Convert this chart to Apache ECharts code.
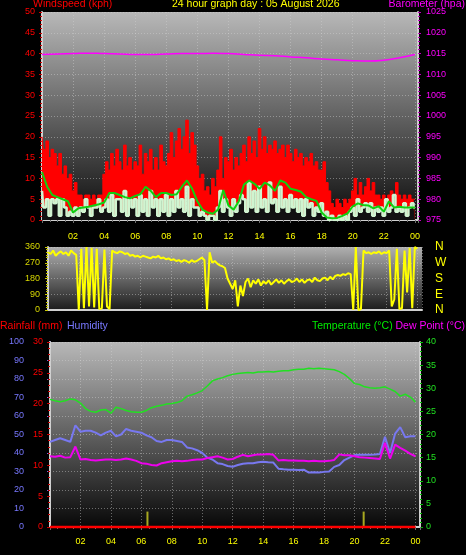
<!DOCTYPE html>
<html><head><meta charset="utf-8">
<script src="https://cdn.jsdelivr.net/npm/echarts@6/dist/echarts.min.js"></script>
<style>html,body{margin:0;padding:0;background:#000;}#c{width:466px;height:555px;}</style>
</head><body><div id="c"></div>
<script>
// ---------- tick labels ----------
const hourTicks = [0,2,4,6,8,10,12,14,16,18,20,22,24];
const hourTickLabels = ['','02','04','06','08','10','12','14','16','18','20','22','00'];
const dirTicks = [0,90,180,270,360];
const dirCompass = ['N','E','S','W','N'];

// ---------- top panel: wind (10-minute steps) ----------
const windGust = [
 20,17,19,15,17,16, 13,16,11,13,10,11, 7,9,6,6,5,6, 6,5,6,5,6,6,
 11,14,12,16,13,17, 14,12,18,13,15,12, 14,13,18,11,16,14, 17,12,15,12,18,14,
 13,16,21,15,19,22, 17,20,24,16,21,18, 13,10,11,7,8,6, 10,8,12,20,10,15,
 14,17,12,15,13,16, 18,14,20,16,19,15, 22,17,20,16,18,17, 19,16,17,18,15,18,
 16,14,17,15,16,13, 15,14,16,13,14,12, 12,14,9,7,4,3, 5,4,3,5,4,5,
 7,10,6,9,6,8, 10,7,9,6,6,5, 6,5,6,7,5,9, 6,5,6,5,6,5, 5];
const windSpeed = [
 7,3,5,1,5,4, 5,1,5,3,1,2, 1,3,1,3,2,5, 3,1,3,3,5,2,
 3,5,2,6,1,5, 5,2,7,1,5,3, 5,1,6,2,5,1, 7,3,5,1,5,2,
 6,1,5,2,7,3, 5,2,8,1,5,3, 3,1,2,1,0,1, 1,0,3,7,2,5,
 3,1,5,2,4,6, 5,2,9,3,7,2, 8,3,5,2,9,4, 5,2,8,3,5,2,
 6,3,5,2,5,1, 5,3,4,1,3,2, 4,1,2,0,1,0, 0,1,0,1,0,2,
 3,1,5,2,3,4, 2,4,1,3,2,3, 1,5,2,3,6,2, 3,2,4,1,3,4, 3];
// 20-minute average wind
const windAvg = [
 11.5,8,6, 5.5,5,4.5, 1.8,2.8,3, 3.2,3.5,3.8, 4.2,6.5,6.5, 6,5.5,5.2,
 5.8,6.2,8, 7,5.5,6.5, 6.5,6,6.2, 8,9.5,7.5, 4.5,2.5,1.8, 1.5,2.5,7.2,
 3.5,2.5,4.5, 8.5,9.5,8.7, 7.5,9,8.3, 7,9.5,9, 7.5,7.2,6.8, 5.5,5,4.6,
 1.8,0.6,0.4, 0.5,1,1.6, 3.3,4,3.6, 3.5,2.8,3.3, 2,4.5,3, 3.2,3,3, 3];
// hourly barometer
const barometer = [1014.8,1014.9,1015.0,1015.1,1015.0,1014.9,1014.8,1014.8,1014.9,1015.0,1015.0,1015.1,
 1015.0,1014.8,1014.6,1014.5,1014.2,1014.0,1013.7,1013.5,1013.3,1013.2,1013.4,1014.0,1014.8];

// ---------- middle panel: wind direction (10-minute steps) ----------
const windDir = [
 330,320,340,310,325,335, 320,330,310,340,325,315, 0,350,10,360,20,355, 15,350,5,10,345,20,
 5,340,330,325,335,330, 320,325,310,315,305,310, 300,310,305,300,295,305, 300,310,295,300,290,295,
 285,290,280,285,275,285, 280,270,285,275,280,290, 300,285,0,330,270,280, 265,255,250,240,180,150,
 120,170,20,140,80,160, 180,130,170,150,175,140, 165,150,170,145,160,175, 155,170,150,165,175,160,
 165,180,160,175,155,170, 175,160,185,170,165,180, 185,170,190,175,195,200, 195,205,200,210,205,0,
 360,0,5,340,325,330, 320,330,325,335,320,330, 325,340,20,60,350,5, 10,340,100,355,10,360, 350];

// ---------- bottom panel (20-minute steps) ----------
const temperature = [
 27.6,27.3,27.1, 27.3,27.7,27.5, 26.8,25.6,25.0, 24.8,25.3,25.4, 24.6,25.9,25.6, 25.2,24.9,24.8,
 24.8,25.2,25.8, 26.1,26.3,26.6, 26.7,26.9,27.3, 28.3,28.6,29.0, 29.5,30.5,31.6, 32.0,32.3,32.7,
 33.0,33.2,33.3, 33.4,33.3,33.5, 33.5,33.6,33.5, 33.7,33.8,33.8, 34.0,34.1,34.1, 34.3,34.2,34.3,
 34.2,34.1,34.0, 33.6,33.0,32.1, 31.0,30.8,30.3, 30.1,30.0,30.1, 30.3,29.8,29.3, 28.3,28.7,28.1, 27.0];
const humidity = [
 46,47,48, 47,46,55, 51.5,52,52, 51,49.5,51, 52,49,50, 53,52,51.5,
 51,49.5,48.5, 46.5,46,47, 47,46.5,46, 43,42.5,41.5, 40,37.5,36.5, 34.5,34,33,
 32.6,33.5,34.2, 34.4,34.5,35, 35.3,35,34.8, 31.5,31.2,31, 31,30.8,31, 29.4,29.6,29.5,
 29.8,30,32.5, 33.5,36.2,37.5, 38.9,39,39, 39,39.2,39.5, 48.8,40,50.5, 54,48.5,49, 49];
const dewPoint = [
 15.3,15.2,15.4, 15.0,15.1,17.4, 14.6,14.7,14.5, 14.4,14.5,14.6, 14.6,14.5,14.6, 14.8,14.6,14.3,
 13.8,13.7,13.4, 13.3,13.8,14.0, 14.2,14.3,14.2, 14.3,14.5,14.6, 14.6,14.9,15.1, 15.3,15.0,14.6,
 14.7,15.2,15.6, 15.3,15.5,15.7, 15.7,15.8,15.6, 14.4,14.5,14.4, 14.4,14.3,14.3, 14.2,14.3,14.2,
 14.2,14.3,14.5, 15.7,15.5,15.5, 15.3,15.1,15.0, 14.9,14.8,14.7, 18.2,14.8,17.8, 17.1,16.5,15.8, 15.3];
const rainfall = [0, 0];          // at hour 0 and 24
const rainfallHours = [0, 24];
const rainMarkHours = [6.4, 20.6];
const rainMarkValues = [2.5, 2.5];

// ---------- build ----------
const pairs = (vals, step) => vals.map((v, i) => [i * step, v]);
const hourFmt = v => { const k = hourTicks.indexOf(v); return k < 0 ? '' : hourTickLabels[k]; };
const dirFmt = v => { const k = dirTicks.indexOf(v); return k < 0 ? '' : dirCompass[k]; };
const plain = v => String(v);
const FONT = 'Liberation Sans';
const TF = '10.5px "Liberation Sans"';
const grad = (a, b) => ({type:'linear', x:0, y:0, x2:0, y2:1, colorStops:[{offset:0,color:a},{offset:1,color:b}]});
const dotted = {show:true, lineStyle:{color:'rgba(210,210,210,0.45)', type:[1,2], width:1}};
const frame = {show:true, lineStyle:{color:'#d0d0d0', width:2}};

const chart = echarts.init(document.getElementById('c'), null, {renderer:'canvas'});
chart.setOption({
  backgroundColor:'#000',
  animation:false,
  textStyle:{fontFamily:FONT},
  graphic:[
    {type:'text', left:33, top:-1, style:{text:'Windspeed (kph)', fill:'#ff0000', font:TF}},
    {type:'text', left:172, top:-1, style:{text:'24 hour graph day : 05 August 2026', fill:'#ffff00', font:TF}},
    {type:'text', right:1, top:-1, style:{text:'Barometer (hpa)', fill:'#ff00ff', font:TF}},
    {type:'text', left:0, top:321, style:{text:'Rainfall (mm)', fill:'#ff0000', font:TF}},
    {type:'text', left:67, top:321, style:{text:'Humidity', fill:'#7878ff', font:TF}},
    {type:'text', left:312, top:321, style:{text:'Temperature (°C)', fill:'#00ee00', font:TF}},
    {type:'text', right:1, top:321, style:{text:'Dew Point (°C)', fill:'#ff00ff', font:TF}}
  ],
  grid:[
    {left:42, top:12, width:376, height:208, show:true, borderWidth:0, backgroundColor:grad('#b8b8b8','#0c0c0c')},
    {left:48, top:247, width:374, height:63, show:true, borderWidth:0, backgroundColor:grad('#b0b0b0','#1c1c1c')},
    {left:50, top:342, width:370, height:185, show:true, borderWidth:0, backgroundColor:grad('#b8b8b8','#080808')}
  ],
  xAxis:[
    {gridIndex:0, type:'value', min:0, max:24.2, interval:2, axisLine:frame,
     axisTick:{show:true, length:3, lineStyle:{color:'#707070'}}, minorTick:{show:true, splitNumber:4, length:2, lineStyle:{color:'#707070'}},
     axisLabel:{formatter:hourFmt, color:'#ffff00', fontSize:9, margin:12, showMaxLabel:false}, splitLine:dotted},
    {gridIndex:1, type:'value', min:0, max:24.3, interval:2, axisLine:frame, axisTick:{show:false},
     axisLabel:{show:false}, splitLine:dotted},
    {gridIndex:2, type:'value', min:0, max:24.3, interval:2, axisLine:frame,
     axisTick:{show:true, length:3, lineStyle:{color:'#707070'}}, minorTick:{show:true, splitNumber:4, length:2, lineStyle:{color:'#707070'}},
     axisLabel:{formatter:hourFmt, color:'#ffff00', fontSize:9, margin:10}, splitLine:dotted}
  ],
  yAxis:[
    {gridIndex:0, type:'value', min:0, max:50, interval:5, position:'left', axisLine:frame,
     axisTick:{show:true, length:3, lineStyle:{color:'#d00000'}}, minorTick:{show:true, splitNumber:5, length:2, lineStyle:{color:'#d00000'}},
     axisLabel:{color:'#ff0000', fontSize:9, margin:7}, splitLine:dotted},
    {gridIndex:0, type:'value', min:975, max:1025, interval:5, position:'right', axisLine:frame,
     axisTick:{show:true, length:3, lineStyle:{color:'#c000c0'}}, minorTick:{show:true, splitNumber:5, length:2, lineStyle:{color:'#c000c0'}},
     axisLabel:{color:'#ff00ff', fontSize:9, margin:8, formatter:plain}, splitLine:{show:false}},
    {gridIndex:1, type:'value', min:0, max:360, interval:90, position:'left', axisLine:frame,
     axisTick:{show:true, length:3, lineStyle:{color:'#c8c800'}}, minorTick:{show:true, splitNumber:6, length:2, lineStyle:{color:'#c8c800'}},
     axisLabel:{color:'#d8d800', fontSize:9, margin:8}, splitLine:dotted},
    {gridIndex:1, type:'value', min:0, max:360, interval:90, position:'right', axisLine:{show:false}, axisTick:{show:false},
     axisLabel:{formatter:dirFmt, color:'#ffff00', fontSize:12, margin:13}, splitLine:{show:false}},
    {gridIndex:2, type:'value', min:0, max:100, interval:10, position:'left', offset:20,
     axisLine:{show:true, lineStyle:{color:'#7070f0', width:2}},
     axisTick:{show:true, length:3, lineStyle:{color:'#7070f0'}},
     axisLabel:{color:'#7878ff', fontSize:9, margin:6}, splitLine:dotted},
    {gridIndex:2, type:'value', min:0, max:30, interval:5, position:'left', axisLine:frame,
     axisTick:{show:true, length:3, lineStyle:{color:'#d00000'}}, minorTick:{show:true, splitNumber:5, length:2, lineStyle:{color:'#d00000'}},
     axisLabel:{color:'#ff0000', fontSize:9, margin:7}, splitLine:{show:false}},
    {gridIndex:2, type:'value', min:0, max:40, interval:5, position:'right', axisLine:frame,
     axisTick:{show:true, length:3, lineStyle:{color:'#00c000'}}, minorTick:{show:true, splitNumber:5, length:2, lineStyle:{color:'#00c000'}},
     axisLabel:{color:'#20e020', fontSize:9, margin:6}, splitLine:{show:false}}
  ],
  series:[
    {name:'Gust', type:'line', xAxisIndex:0, yAxisIndex:0, step:'middle', showSymbol:false,
     data:pairs(windGust, 1/6), lineStyle:{color:'#ff0000', width:1}, areaStyle:{color:'#ff0000', opacity:1}},
    {name:'Speed', type:'line', xAxisIndex:0, yAxisIndex:0, step:'middle', showSymbol:false,
     data:pairs(windSpeed, 1/6), lineStyle:{color:'#d0f4d0', width:2.5}, areaStyle:{color:'#121212', opacity:1}},
    {name:'Average', type:'line', xAxisIndex:0, yAxisIndex:0, showSymbol:false,
     data:pairs(windAvg, 1/3), lineStyle:{color:'#10d010', width:2}},
    {name:'Barometer', type:'line', xAxisIndex:0, yAxisIndex:1, showSymbol:false, smooth:true,
     data:pairs(barometer, 1), lineStyle:{color:'#ff00ff', width:1.5}},
    {name:'Direction', type:'line', xAxisIndex:1, yAxisIndex:2, showSymbol:false,
     data:pairs(windDir, 1/6), lineStyle:{color:'#ffff00', width:2}},
    {name:'Rain', type:'line', xAxisIndex:2, yAxisIndex:5, showSymbol:false, clip:false,
     data:rainfallHours.map((h,i)=>[h, rainfall[i]]), lineStyle:{color:'#ff0000', width:2.5}},
    {name:'RainMark', type:'bar', xAxisIndex:2, yAxisIndex:5, barWidth:2,
     data:rainMarkHours.map((h,i)=>[h, rainMarkValues[i]]), itemStyle:{color:'#a8a820'}},
    {name:'Humidity', type:'line', xAxisIndex:2, yAxisIndex:4, showSymbol:false,
     data:pairs(humidity, 1/3), lineStyle:{color:'#7878f0', width:2}},
    {name:'Dew Point', type:'line', xAxisIndex:2, yAxisIndex:6, showSymbol:false,
     data:pairs(dewPoint, 1/3), lineStyle:{color:'#ee00ee', width:2}},
    {name:'Temperature', type:'line', xAxisIndex:2, yAxisIndex:6, showSymbol:false,
     data:pairs(temperature, 1/3), lineStyle:{color:'#22e022', width:1.5}}
  ]
});
</script>
</body></html>
